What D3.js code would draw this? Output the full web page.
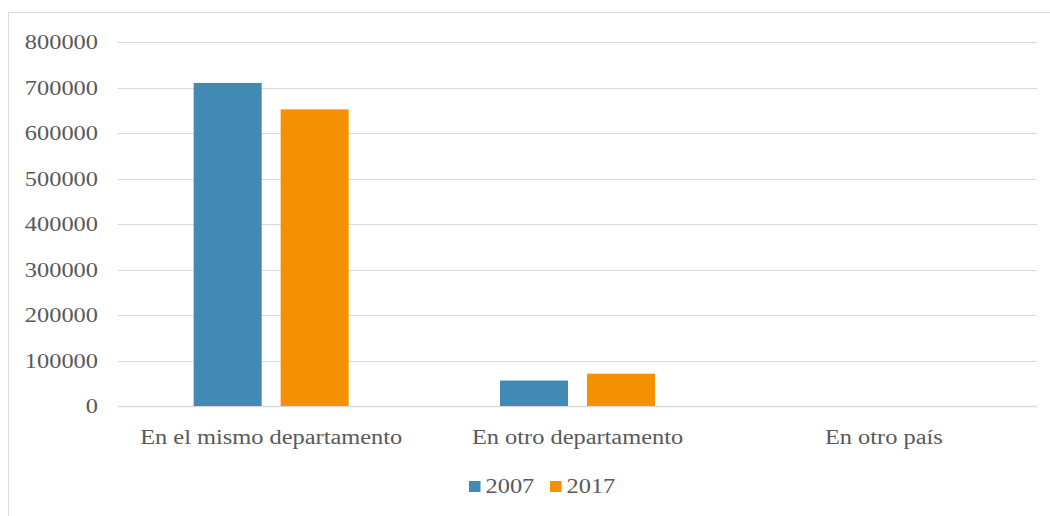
<!DOCTYPE html>
<html>
<head>
<meta charset="utf-8">
<script src="https://cdn.jsdelivr.net/npm/d3@7/dist/d3.min.js"></script>
<style>
  html, body { margin: 0; padding: 0; background: #fff; }
  svg { display: block; }
  text { font-family: "Liberation Serif", "Times New Roman", serif; fill: #595959; }
</style>
</head>
<body>
<svg id="chart" width="1050" height="516"></svg>
<script>
const categories = ["En el mismo departamento", "En otro departamento", "En otro país"];
const seriesNames = ["2007", "2017"];
const values2007 = [710000, 56000, 0];
const values2017 = [652000, 71000, 0];
const yTicks = [0, 100000, 200000, 300000, 400000, 500000, 600000, 700000, 800000];
const colors = ["#418AB3", "#F59100"];

(function () {
const svg = d3.select("#chart");
const W = 1050, H = 516;
const sx = 1.19, fs = 20.5;

// outer border
svg.append("rect").attr("x", 8.5).attr("y", 12.5).attr("width", W).attr("height", H)
  .attr("fill", "none").attr("stroke", "#D9D9D9").attr("stroke-width", 1);

const pLeft = 118, pRight = 1037, pTop = 42, pBottom = 406;
const x = d3.scaleBand().domain(categories).range([pLeft, pRight]).paddingInner(0.494).paddingOuter(0.247);
const xs = d3.scaleBand().domain(seriesNames).range([0, x.bandwidth()]).paddingInner(0.218).paddingOuter(0);
const y = d3.scaleLinear().domain([0, 800000]).range([pBottom, pTop]);

// gridlines
svg.append("g").selectAll("line").data(yTicks).join("line")
  .attr("x1", pLeft).attr("x2", pRight)
  .attr("y1", d => Math.round(y(d)) + 0.5).attr("y2", d => Math.round(y(d)) + 0.5)
  .attr("stroke", "#D9D9D9").attr("stroke-width", d => d === 0 ? 1.5 : 1);

// y tick labels
svg.append("g").selectAll("text").data(yTicks).join("text")
  .attr("transform", d => `translate(98,${y(d)}) scale(${sx},1)`)
  .attr("text-anchor", "end").attr("dy", "0.35em")
  .style("font-size", fs + "px")
  .text(d => d3.format("d")(d));

// bars
const rows = categories.map((c, i) => ({ cat: c, vals: [values2007[i], values2017[i]] }));
const groups = svg.append("g").selectAll("g").data(rows).join("g")
  .attr("transform", d => `translate(${x(d.cat)},0)`);
groups.selectAll("rect").data(d => d.vals.map((v, j) => ({ s: seriesNames[j], v, j })))
  .join("rect")
  .attr("x", d => xs(d.s)).attr("width", xs.bandwidth())
  .attr("y", d => y(d.v)).attr("height", d => y(0) - y(d.v))
  .attr("fill", d => colors[d.j]);

// x labels
svg.append("g").selectAll("text").data(categories).join("text")
  .attr("transform", d => `translate(${x(d) + x.bandwidth() / 2},444) scale(${sx},1)`)
  .attr("text-anchor", "middle")
  .style("font-size", fs + "px")
  .text(d => d);

// legend
const legendX = [469, 550];
const lg = svg.append("g").selectAll("g").data(seriesNames).join("g")
  .attr("transform", (d, i) => `translate(${legendX[i]},0)`);
lg.append("rect").attr("x", 0).attr("y", 481).attr("width", 11.5).attr("height", 11).attr("fill", (d, i) => colors[i]);
lg.append("text").attr("transform", `translate(16.5,493) scale(${sx},1)`)
  .style("font-size", fs + "px").text(d => d);
})();
</script>
</body>
</html>
